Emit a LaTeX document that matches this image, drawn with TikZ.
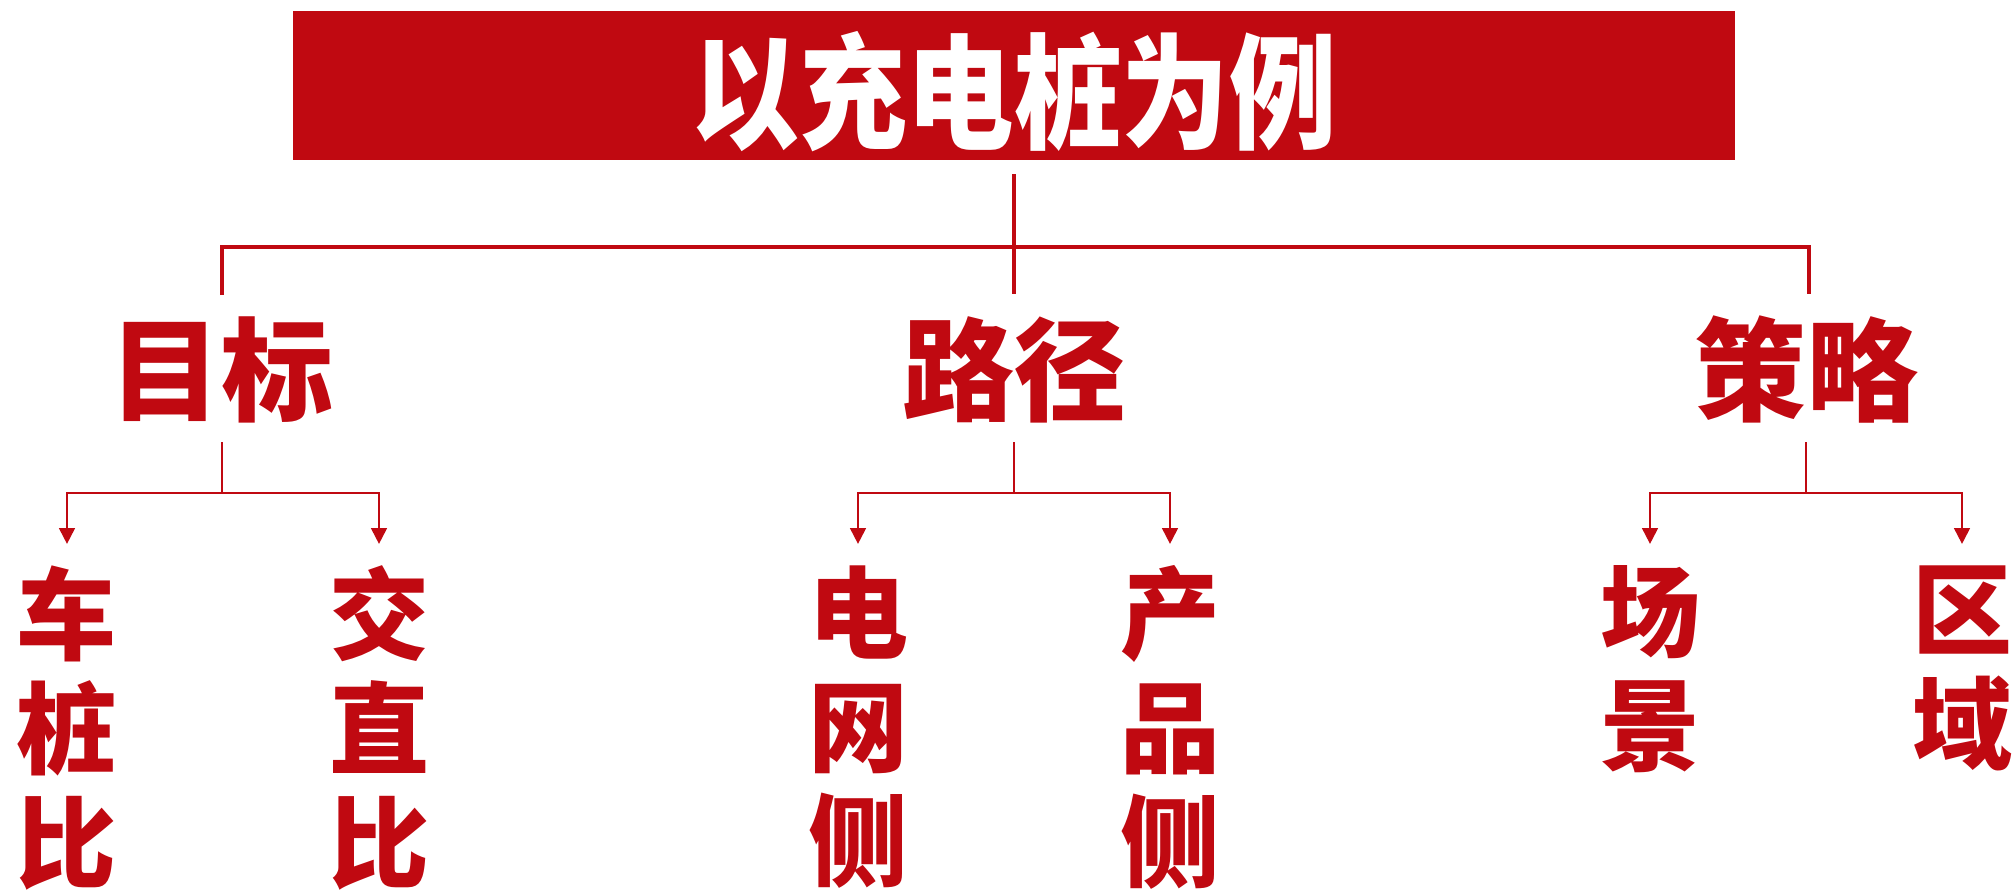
\documentclass[tikz,border=0pt]{standalone}
\usepackage{fontspec}
\usepackage{graphicx}
\newfontfamily\cjk{Noto Sans CJK SC}
\usetikzlibrary{arrows.meta}
\definecolor{brand}{RGB}{192,9,17}
\begin{document}
\begin{tikzpicture}[x=0.5pt,y=-0.5pt,
  topline/.style={draw=brand,line width=1.8pt},
  subline/.style={draw=brand,line width=1.45pt},
  arrowline/.style={subline,-{Triangle[length=8pt,width=7.8pt]}},
  titletext/.style={text=white,inner sep=0pt,font=\cjk\bfseries\fontsize{62.5}{62.5}\selectfont},
  lvtwo/.style={text=brand,inner sep=0pt,font=\cjk\bfseries\fontsize{56}{56}\selectfont},
  leaf/.style={text=brand,inner sep=0pt,anchor=north,align=center,font=\cjk\bfseries\fontsize{50}{57}\selectfont},
]
\useasboundingbox (0,0) rectangle (2013,889);

% title
\node[fill=brand,minimum width=721pt,minimum height=74.5pt,inner sep=0pt] (titlebox) at (1014,85.5) {};
\node[titletext] (title) at (1014,91.5) {\scalebox{0.86}[1]{以充电桩为例}};

% level two
\node[lvtwo] (goal) at (221,369.5) {目标};
\node[lvtwo] (path) at (1014,369.5) {路径};
\node[lvtwo] (strat) at (1806,369.5) {策略};

% leaves
\node[leaf] (carpile) at (67,565) {车\\桩\\比};
\node[leaf] (acdc) at (379,565) {交\\直\\比};
\node[leaf] (grid) at (858,565) {电\\网\\侧};
\node[leaf] (product) at (1170,565) {产\\品\\侧};
\node[leaf] (scene) at (1650,565) {场\\景};
\node[leaf] (region) at (1962,565) {区\\域};

% top connectors
\coordinate (t0) at (1014,174);
\coordinate (m0) at (1014,294);
\coordinate (a0) at (222,247);
\coordinate (a1) at (222,295);
\coordinate (c0) at (1809,247);
\coordinate (c1) at (1809,294);
\draw[topline] (t0) -- (m0);
\draw[topline] (a1) -- (a0) -- (c0) -- (c1);

% lower connectors
\foreach \cx/\lx/\rx in {222/67/379, 1014/858/1170, 1806/1650/1962}{
  \coordinate (s0) at (\cx,442);
  \coordinate (s1) at (\cx,493);
  \coordinate (l0) at (\lx,493);
  \coordinate (l1) at (\lx,544);
  \coordinate (r0) at (\rx,493);
  \coordinate (r1) at (\rx,544);
  \draw[subline] (s0) -- (s1);
  \draw[arrowline] (s1) -- (l0) -- (l1);
  \draw[arrowline] (s1) -- (r0) -- (r1);
}
\end{tikzpicture}
\end{document}
